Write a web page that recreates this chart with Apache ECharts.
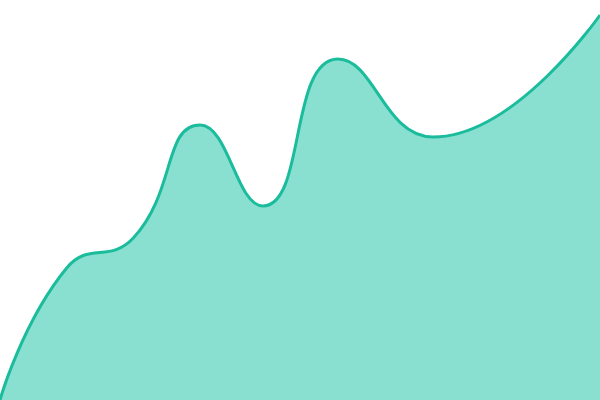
<!DOCTYPE html>
<html><head><meta charset="utf-8">
<script src="https://cdn.jsdelivr.net/npm/echarts@6/dist/echarts.min.js"></script>
<style>html,body{margin:0;padding:0;background:#fff}#c{width:600px;height:400px}</style>
</head><body><div id="c"></div>
<script>
const xs = [0, 66.7, 133.3, 200, 263, 338, 433, 600];
const values = [0, 132, 162, 275, 194, 341, 263, 385];
const chart = echarts.init(document.getElementById('c'));
chart.setOption({
  animation: false,
  grid: {left: 0, right: 0, top: 0, bottom: 0},
  xAxis: {type: 'value', min: 0, max: 600, show: false},
  yAxis: {type: 'value', min: 0, max: 400, show: false},
  series: [{
    type: 'line', data: xs.map((x, i) => [x, values[i]]), smooth: true, symbol: 'none',
    lineStyle: {color: '#1ABC9C', width: 3},
    areaStyle: {color: '#8AE0D0', opacity: 1}
  }]
});
</script></body></html>
